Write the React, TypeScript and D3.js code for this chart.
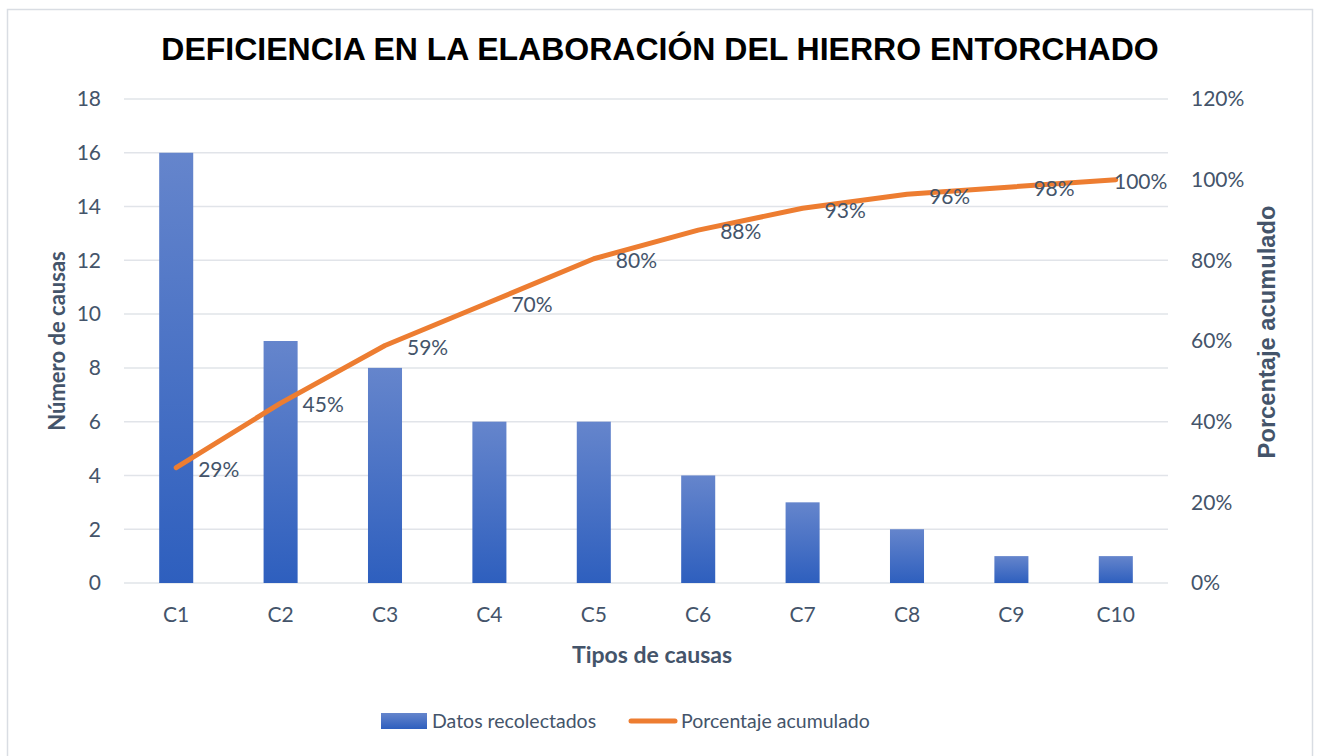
import React from "react";
import * as d3 from "d3";

const categories = ["C1", "C2", "C3", "C4", "C5", "C6", "C7", "C8", "C9", "C10"];
const counts = [16, 9, 8, 6, 6, 4, 3, 2, 1, 1];
const cumulative = [28.6, 44.6, 58.9, 69.6, 80.4, 87.5, 92.9, 96.4, 98.2, 100];
const leftTicks = [0, 2, 4, 6, 8, 10, 12, 14, 16, 18];
const rightTicks = [0, 20, 40, 60, 80, 100, 120];

const W = 1317;
const H = 756;
const plot = { left: 124, right: 1168, top: 99, bottom: 583 };
const textColor = "#44546A";
const calibri = "Lato, Carlito, Calibri, sans-serif";
const arial = "'Liberation Sans', Arial, sans-serif";

const App = () => {
    const x = d3
        .scaleBand()
        .domain(categories)
        .range([plot.left, plot.right])
        .paddingInner(0.674)
        .paddingOuter(0.337);
    const step = (plot.right - plot.left) / categories.length;
    const cx = (c: string) => plot.left + step * (categories.indexOf(c) + 0.5);
    const yLeft = d3.scaleLinear().domain([0, 18]).range([plot.bottom, plot.top]);
    const yRight = d3.scaleLinear().domain([0, 120]).range([plot.bottom, plot.top]);

    const line = d3
        .line<number>()
        .x((d, i) => cx(categories[i]))
        .y(d => yRight(d));

    const fmt = (v: number) => `${Math.round(v)}%`;

    return (
        <div style={{ position: "fixed", left: 0, top: 0, width: W, height: H, background: "#fff" }}>
            <svg width={W} height={H} style={{ display: "block" }}>
                <defs>
                    <linearGradient id="barGrad" x1="0" y1="0" x2="0" y2="1">
                        <stop offset="0%" stopColor="#6585cc" />
                        <stop offset="100%" stopColor="#2e5fbe" />
                    </linearGradient>
                </defs>
                <rect x={7.5} y={9.5} width={1305} height={760} fill="#fff" stroke="#d9dde3" strokeWidth={1.5} />

                <text x={660} y={60} textAnchor="middle" fontFamily={arial} fontWeight="bold" fontSize={32} fill="#000">
                    DEFICIENCIA EN LA ELABORACIÓN DEL HIERRO ENTORCHADO
                </text>

                {leftTicks.map(t => (
                    <g key={"g" + t}>
                        <line x1={plot.left} x2={plot.right} y1={yLeft(t)} y2={yLeft(t)} stroke="#e1e4e9" strokeWidth={1.5} />
                        <text x={101} y={yLeft(t)} dy="0.35em" textAnchor="end" fontFamily={calibri} fontSize={21} fill={textColor}>
                            {t}
                        </text>
                    </g>
                ))}

                {rightTicks.map(t => (
                    <text key={"r" + t} x={1191} y={yRight(t)} dy="0.35em" textAnchor="start" fontFamily={calibri} fontSize={21} fill={textColor}>
                        {t}%
                    </text>
                ))}

                {categories.map((c, i) => (
                    <g key={c}>
                        <rect
                            x={x(c)}
                            y={yLeft(counts[i])}
                            width={x.bandwidth()}
                            height={plot.bottom - yLeft(counts[i])}
                            fill="url(#barGrad)"
                        />
                        <text x={cx(c)} y={615} dy="0.35em" textAnchor="middle" fontFamily={calibri} fontSize={21} fill={textColor}>
                            {c}
                        </text>
                    </g>
                ))}

                <path d={line(cumulative) || ""} fill="none" stroke="#ED7D31" strokeWidth={5} strokeLinecap="round" strokeLinejoin="round" />

                {cumulative.map((v, i) => {
                    const lbl = fmt(v);
                    const w = lbl.length * 13.5;
                    let lx = cx(categories[i]) + 22;
                    if (lx + w > plot.right) lx = plot.right - w;
                    return (
                        <text key={"l" + i} x={lx} y={yRight(v) + 2} dy="0.35em" fontFamily={calibri} fontSize={21} fill={textColor}>
                            {lbl}
                        </text>
                    );
                })}

                <text
                    transform={`translate(57, ${(plot.top + plot.bottom) / 2}) rotate(-90)`}
                    dy="0.35em"
                    textAnchor="middle"
                    fontFamily={calibri}
                    fontWeight="bold"
                    fontSize={22}
                    fill={textColor}
                >
                    Número de causas
                </text>
                <text
                    transform={`translate(1267, ${(plot.top + plot.bottom) / 2 - 9}) rotate(-90)`}
                    dy="0.35em"
                    textAnchor="middle"
                    fontFamily={arial}
                    fontWeight="bold"
                    fontSize={23.7}
                    fill={textColor}
                >
                    Porcentaje acumulado
                </text>
                <text x={652} y={655} dy="0.35em" textAnchor="middle" fontFamily={calibri} fontWeight="bold" fontSize={23} fill={textColor}>
                    Tipos de causas
                </text>

                <rect x={381} y={713} width={46} height={16} fill="url(#barGrad)" />
                <text x={432} y={721} dy="0.35em" fontFamily={calibri} fontSize={19.5} fill={textColor}>
                    Datos recolectados
                </text>
                <line x1={631} x2={675} y1={721} y2={721} stroke="#ED7D31" strokeWidth={5} strokeLinecap="round" />
                <text x={681} y={721} dy="0.35em" fontFamily={calibri} fontSize={19.5} fill={textColor}>
                    Porcentaje acumulado
                </text>
            </svg>
        </div>
    );
};

export default App;
